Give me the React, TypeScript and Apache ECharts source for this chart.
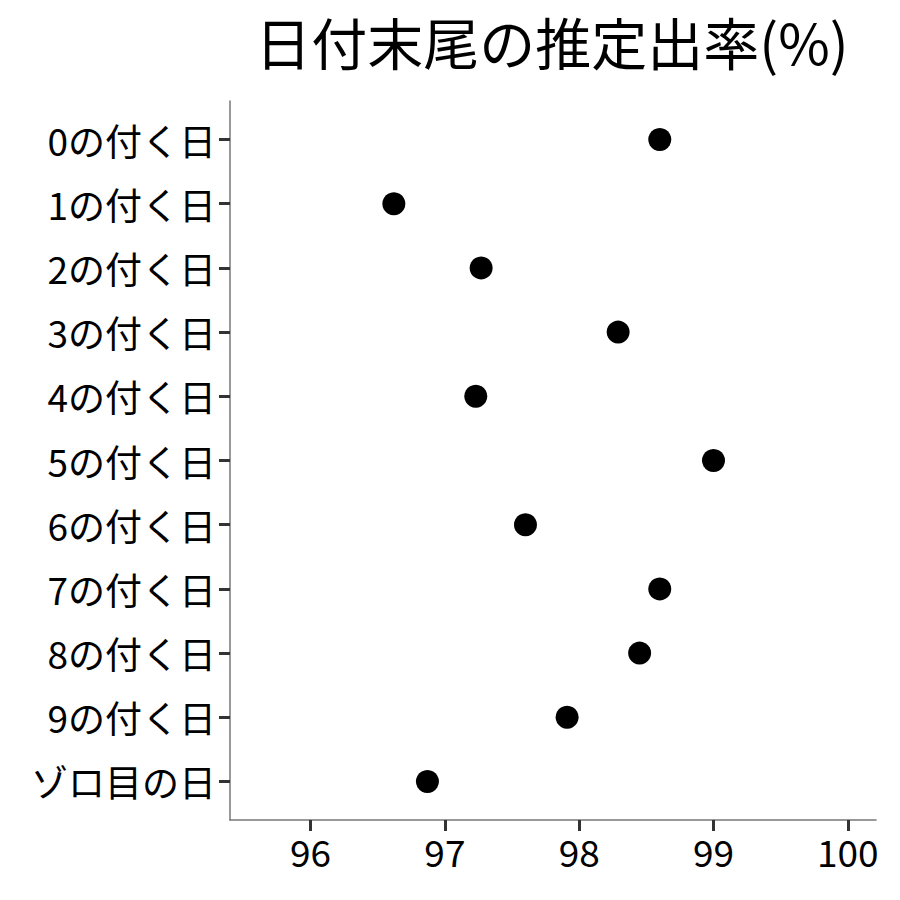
import React, { useEffect, useRef } from "react";
import * as echarts from "echarts";

const categories = [
  "0の付く日",
  "1の付く日",
  "2の付く日",
  "3の付く日",
  "4の付く日",
  "5の付く日",
  "6の付く日",
  "7の付く日",
  "8の付く日",
  "9の付く日",
  "ゾロ目の日",
];
const rates = [98.6, 96.62, 97.27, 98.29, 97.23, 99.0, 97.6, 98.6, 98.45, 97.91, 96.87];
const xTicks = [96, 97, 98, 99, 100];
const titleText = "日付末尾の推定出率(%)";

const FONT = "'Noto Sans CJK JP', 'Noto Sans', sans-serif";

export default function App() {
  const ref = useRef<HTMLDivElement>(null);
  useEffect(() => {
    if (!ref.current) return;
    const chart = echarts.init(ref.current, undefined, { renderer: "svg" });
    const yIdx = categories.map((_, i) => i);
    chart.setOption({
      animation: false,
      backgroundColor: "#ffffff",
      textStyle: { fontFamily: FONT },
      title: {
        text: titleText,
        left: 552,
        top: 12,
        padding: 0,
        textAlign: "center",
        textStyle: {
          fontFamily: FONT,
          fontSize: 56,
          lineHeight: 56,
          fontWeight: "normal",
          color: "#000",
        },
      },
      grid: { left: 230, right: 24, top: 101, bottom: 80, containLabel: false },
      xAxis: {
        type: "value",
        min: 95.4,
        max: 100.21,
        splitLine: { show: false },
        axisLine: { show: true, onZero: false, lineStyle: { color: "#777", width: 1.5 } },
        axisTick: {
          show: true,
          length: 11,
          customValues: xTicks,
          lineStyle: { color: "#333", width: 3 },
        },
        axisLabel: {
          customValues: xTicks,
          fontFamily: FONT,
          fontSize: 37,
          color: "#000",
          margin: 12,
        },
      },
      yAxis: {
        type: "value",
        inverse: true,
        min: -0.6,
        max: 10.6,
        splitLine: { show: false },
        axisLine: { show: true, onZero: false, lineStyle: { color: "#777", width: 1.5 } },
        axisTick: {
          show: true,
          length: 11,
          customValues: yIdx,
          lineStyle: { color: "#333", width: 3 },
        },
        axisLabel: {
          customValues: yIdx,
          fontFamily: FONT,
          fontSize: 37,
          color: "#000",
          margin: 14,
          formatter: (v: number) => categories[Math.round(v)] ?? "",
        },
      },
      series: [
        {
          type: "scatter",
          symbol: "circle",
          symbolSize: 23,
          itemStyle: { color: "#000", opacity: 1 },
          data: rates.map((r, i) => [r, i]),
        },
      ],
    });
    return () => chart.dispose();
  }, []);
  return <div ref={ref} style={{ width: 900, height: 900, position: "absolute", left: 0, top: 0 }} />;
}
